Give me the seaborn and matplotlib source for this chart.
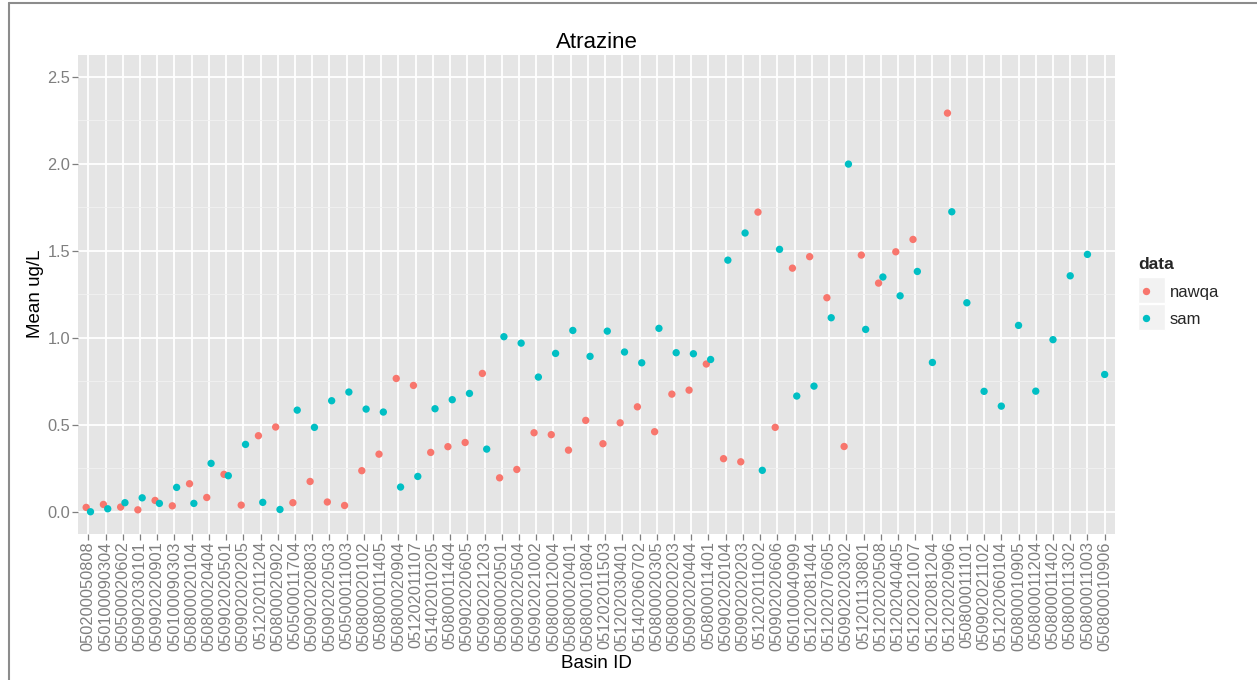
import numpy as np
import pandas as pd
import matplotlib
matplotlib.use("Agg")
import matplotlib.pyplot as plt
import seaborn as sns
from matplotlib.lines import Line2D
from matplotlib.patches import Rectangle

# ---------------- data ----------------
basin_ids = [
    "050200050808", "050100090304", "050500020602", "050902030101", "050902020901",
    "050100090303", "050800020104", "050800020404", "050902020501", "050902020205",
    "051202011204", "050800020902", "050500011704", "050902020803", "050902020503",
    "050500011003", "050800020102", "050800011405", "050800020904", "051202011107",
    "051402010205", "050800011404", "050902020605", "050902021203", "050800020501",
    "050902020504", "050902021002", "050800012004", "050800020401", "050800010804",
    "051202011503", "051202030401", "051402060702", "050800020305", "050800020203",
    "050902020404", "050800011401", "050902020104", "050902020203", "051202011002",
    "050902020606", "050100040909", "051202081404", "051202070605", "050902020302",
    "051201130801", "051202020508", "051202040405", "051202021007", "051202081204",
    "051202020906", "050800011101", "050902021102", "051202060104", "050800010905",
    "050800011204", "050800011402", "050800011302", "050800011003", "050800010906",
]

nan = np.nan
nawqa = [
    0.025, 0.042, 0.027, 0.011, 0.065, 0.034, 0.161, 0.082, 0.215, 0.038,
    0.437, 0.487, 0.052, 0.174, 0.056, 0.036, 0.236, 0.331, 0.766, 0.726,
    0.341, 0.374, 0.398, 0.795, 0.195, 0.243, 0.454, 0.443, 0.354, 0.525,
    0.391, 0.511, 0.603, 0.460, 0.676, 0.699, 0.849, 0.305, 0.287, 1.722,
    0.485, 1.400, 1.466, 1.230, 0.375, 1.475, 1.314, 1.494, 1.565, nan,
    2.291, nan, nan, nan, nan, nan, nan, nan, nan, nan,
]
sam = [
    0.000, 0.017, 0.052, 0.080, 0.048, 0.140, 0.048, 0.278, 0.207, 0.387,
    0.054, 0.013, 0.584, 0.485, 0.638, 0.688, 0.590, 0.573, 0.142, 0.203,
    0.592, 0.644, 0.680, 0.360, 1.006, 0.969, 0.774, 0.910, 1.042, 0.893,
    1.038, 0.918, 0.856, 1.054, 0.914, 0.908, 0.875, 1.446, 1.602, 0.238,
    1.508, 0.665, 0.722, 1.115, 1.998, 1.048, 1.349, 1.241, 1.381, 0.858,
    1.724, 1.201, 0.692, 0.607, 1.071, 0.693, 0.989, 1.356, 1.479, 0.789,
]
series_names = ["nawqa", "sam"]
colors = {"nawqa": "#F8766D", "sam": "#00BFC4"}

# ---------------- long table with ggplot-like dodge ----------------
rows = []
dodge = 0.125
for i, bid in enumerate(basin_ids):
    both = not np.isnan(nawqa[i]) and not np.isnan(sam[i])
    for name, vals, off in (("nawqa", nawqa, -dodge), ("sam", sam, dodge)):
        v = vals[i]
        if np.isnan(v):
            continue
        rows.append({"Basin ID": bid, "value": v, "data": name,
                     "pos": i + (off if both else 0.0)})
df = pd.DataFrame(rows)

# ---------------- figure ----------------
sns.set_theme(style="darkgrid")
plt.rcParams["font.family"] = ["Liberation Sans", "DejaVu Sans"]

W, H = 1257, 680
fig = plt.figure(figsize=(W / 100, H / 100), dpi=100)
fig.patch.set_facecolor("white")
L, R, T, B = 78, 1115, 55, 533.5
ax = fig.add_axes([L / W, 1 - B / H, (R - L) / W, (B - T) / H])
ax.set_facecolor("#E5E5E5")

sns.scatterplot(data=df, x="pos", y="value", hue="data", hue_order=series_names,
                palette=colors, s=28, linewidth=0, ax=ax, zorder=3)

ax.set_xlim(-0.6, len(basin_ids) - 1 + 0.6)
ax.set_ylim(-0.125, 2.625)
ax.set_xticks(range(len(basin_ids)))
ax.set_xticklabels(basin_ids, rotation=90)
ax.set_yticks([0.0, 0.5, 1.0, 1.5, 2.0, 2.5])
ax.set_yticklabels(["0.0", "0.5", "1.0", "1.5", "2.0", "2.5"])
ax.set_yticks([0.25, 0.75, 1.25, 1.75, 2.25], minor=True)
ax.set_axisbelow(True)
ax.grid(which="major", color="white", linewidth=1.3)
ax.grid(which="minor", axis="y", color="#F2F2F2", linewidth=0.6)
ax.grid(which="minor", axis="x", visible=False)
for s in ax.spines.values():
    s.set_visible(False)
ax.tick_params(axis="both", which="major", length=4, width=0.9, color="#7F7F7F",
               labelcolor="#7F7F7F", labelsize=11.8, pad=1.5, bottom=True, left=True)
ax.tick_params(axis="both", which="minor", length=0)

ax.set_title("Atrazine", fontsize=16, pad=5, color="black")
ax.set_xlabel("Basin ID", fontsize=13.5, color="black")
ax.set_ylabel("Mean ug/L", fontsize=13.5, color="black")
ax.xaxis.set_label_coords(0.5, -(663 - B) / (B - T))
ax.xaxis.label.set_va("center")
ax.yaxis.set_label_coords(-(L - 36) / (R - L), 0.5)
ax.yaxis.label.set_va("center")

# ---------------- legend ----------------
handles, labels = ax.get_legend_handles_labels()
ax.get_legend().remove()
leg = fig.legend(handles, labels, title="data", loc="upper left",
                 bbox_to_anchor=(1138 / W, 1 - 257 / H), frameon=False,
                 handlelength=1.0, handletextpad=0.9, labelspacing=0.75,
                 borderpad=0, borderaxespad=0, fontsize=12,
                 title_fontproperties={"weight": "bold", "size": 12.5})
leg._legend_box.align = "left"
for (y0, y1) in ((277, 303), (304, 330)):
    fig.add_artist(Rectangle((1138 / W, 1 - y1 / H), 27 / W, (y1 - y0) / H,
                             transform=fig.transFigure, facecolor="#F2F2F2",
                             edgecolor="white", linewidth=1, zorder=1))

# ---------------- outer frame lines ----------------
fig.add_artist(Line2D([8.5 / W, 8.5 / W], [0, 1 - 3 / H], transform=fig.transFigure,
                      color="#8C8C8C", linewidth=1.5))
fig.add_artist(Line2D([8.5 / W, 1], [1 - 3 / H, 1 - 3 / H], transform=fig.transFigure,
                      color="#8C8C8C", linewidth=1.5))

fig.savefig("out.png", dpi=100, facecolor="white")
